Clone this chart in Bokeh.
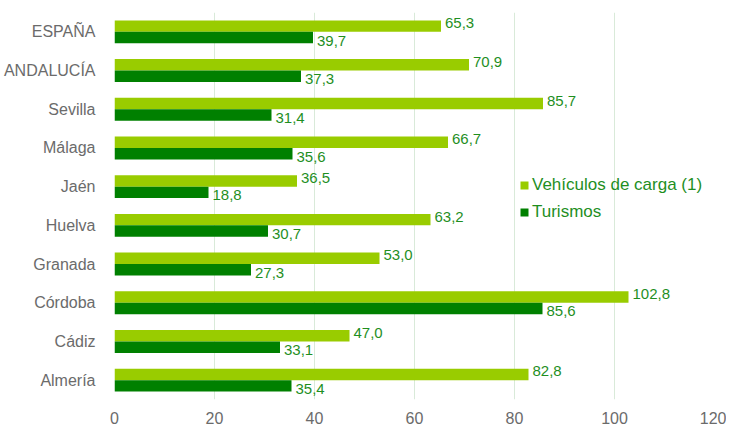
from bokeh.plotting import figure
from bokeh.models import ColumnDataSource, Legend, LegendItem, FactorRange
from bokeh.transform import dodge
from bokeh.core.properties import value
from bokeh.embed import file_html
from bokeh.resources import INLINE

categories = ["ESPAÑA", "ANDALUCÍA", "Sevilla", "Málaga", "Jaén", "Huelva",
              "Granada", "Córdoba", "Cádiz", "Almería"]
carga = [65.3, 70.9, 85.7, 66.7, 36.5, 63.2, 53.0, 102.8, 47.0, 82.8]
turismos = [39.7, 37.3, 31.4, 35.6, 18.8, 30.7, 27.3, 85.6, 33.1, 35.4]
x_ticks = [0, 20, 40, 60, 80, 100, 120]

LIGHT = "#99CC00"
DARK = "#008000"
LABEL = "#1F8F1F"
GRAY = "#6B6B6B"
FONT = "Liberation Sans"

fmt = lambda v: f"{v:.1f}".replace(".", ",")
src = ColumnDataSource(dict(
    cat=categories, carga=carga, turismos=turismos,
    carga_lbl=[fmt(v) for v in carga], tur_lbl=[fmt(v) for v in turismos],
))

p = figure(width=726, height=426, output_backend="svg", toolbar_location=None,
           y_range=FactorRange(*list(reversed(categories)), range_padding=0),
           x_range=(0, 120), min_border_left=114, min_border_right=12,
           min_border_top=12, min_border_bottom=24)
p.outline_line_color = None

r1 = p.hbar(y=dodge("cat", 0.148, range=p.y_range), right="carga", left=0,
            height=0.296, source=src, fill_color=LIGHT, line_color=None)
r2 = p.hbar(y=dodge("cat", -0.148, range=p.y_range), right="turismos", left=0,
            height=0.296, source=src, fill_color=DARK, line_color=None)

p.text(x="carga", y=dodge("cat", 0.148, range=p.y_range), text="carga_lbl", source=src,
       x_offset=4, y_offset=-3, text_baseline="middle", text_font=value(FONT),
       text_font_size="15px", text_color=LABEL)
p.text(x="turismos", y=dodge("cat", -0.148, range=p.y_range), text="tur_lbl", source=src,
       x_offset=4, y_offset=3, text_baseline="middle", text_font=value(FONT),
       text_font_size="15px", text_color=LABEL)

p.xaxis.ticker = x_ticks
p.xaxis.axis_line_color = None
p.xaxis.major_tick_line_color = None
p.xaxis.minor_tick_line_color = None
p.xaxis.major_label_text_font = FONT
p.xaxis.major_label_text_font_size = "16px"
p.xaxis.major_label_text_color = GRAY
p.xaxis.major_label_standoff = 6

p.yaxis.axis_line_color = None
p.yaxis.major_tick_line_color = None
p.yaxis.minor_tick_line_color = None
p.yaxis.major_label_text_font = FONT
p.yaxis.major_label_text_font_size = "16px"
p.yaxis.major_label_text_color = GRAY
p.yaxis.major_label_standoff = 13

p.xgrid.grid_line_color = "#D9EAD9"
p.xgrid.grid_line_width = 1
p.ygrid.grid_line_color = None

legend = Legend(items=[LegendItem(label="Vehículos de carga (1)", renderers=[r1]),
                       LegendItem(label="Turismos", renderers=[r2])],
                location=(405, 176), orientation="vertical",
                background_fill_alpha=0, border_line_color=None,
                glyph_width=10, glyph_height=10, label_standoff=3,
                spacing=5, padding=4, margin=0,
                label_text_font=FONT, label_text_font_size="17px",
                label_text_color=LABEL, label_height=22)
p.add_layout(legend, "center")

open("out.html", "w").write(file_html(p, INLINE))
